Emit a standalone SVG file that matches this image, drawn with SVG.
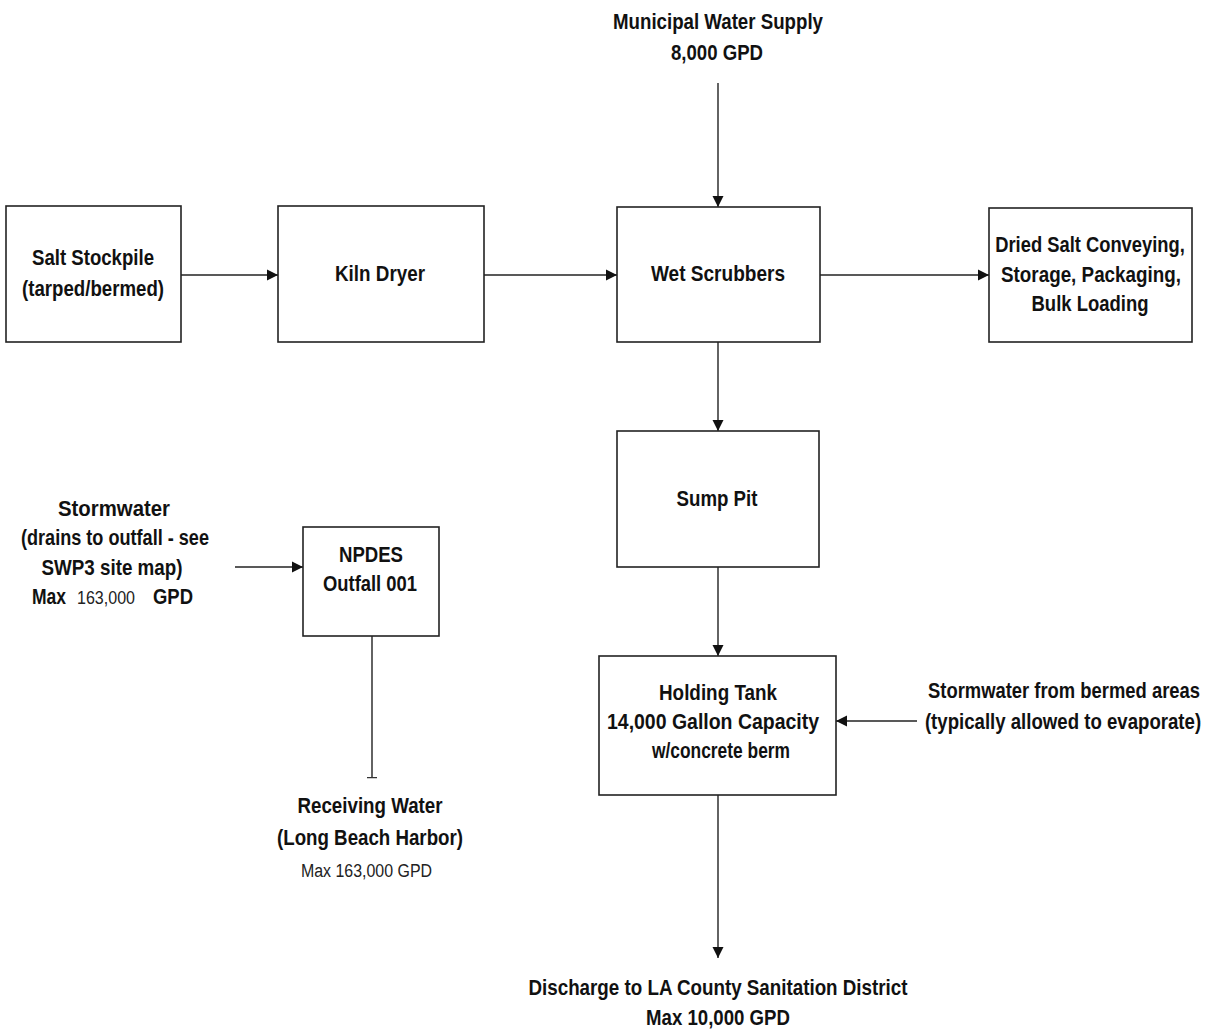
<svg xmlns="http://www.w3.org/2000/svg" width="1212" height="1034" viewBox="0 0 1212 1034">
<style>
.box{fill:#fff;stroke:#222;stroke-width:1.6}
.t{font-family:"Liberation Sans",Arial,sans-serif;font-weight:bold;font-size:22px;fill:#111;text-anchor:middle}
.l{font-family:"Liberation Sans",Arial,sans-serif;font-weight:normal;font-size:18px;fill:#222}
.c{fill:none;stroke:#222;stroke-width:1.4}
</style>
<defs>
<marker id="arr" markerUnits="userSpaceOnUse" markerWidth="12" markerHeight="12" refX="11" refY="6" orient="auto">
<path d="M0,0.5 L11,6 L0,11.5 z" fill="#111"/>
</marker>
<marker id="tee" markerUnits="userSpaceOnUse" markerWidth="12" markerHeight="12" refX="1" refY="6" orient="auto">
<path d="M0,1 L0,11" stroke="#333" stroke-width="2.5"/>
</marker>
</defs>
<rect width="1212" height="1034" fill="#fff"/>
<g id="connectors">
<path class="c" d="M181,275 H278" marker-end="url(#arr)"/>
<path class="c" d="M484,275 H617" marker-end="url(#arr)"/>
<path class="c" d="M820,275 H989" marker-end="url(#arr)"/>
<path class="c" d="M718,83 V207" marker-end="url(#arr)"/>
<path class="c" d="M718,342 V431" marker-end="url(#arr)"/>
<path class="c" d="M718,567 V656" marker-end="url(#arr)"/>
<path class="c" d="M718,795 V958" marker-end="url(#arr)"/>
<path class="c" d="M235,567 H303" marker-end="url(#arr)"/>
<path class="c" d="M917,721 H836" marker-end="url(#arr)"/>
<path class="c" d="M372,636 V778" marker-end="url(#tee)"/>
</g>
<g id="municipal">
<text class="t" x="718" y="29" textLength="210" lengthAdjust="spacingAndGlyphs">Municipal Water Supply</text>
<text class="t" x="717" y="60" textLength="92" lengthAdjust="spacingAndGlyphs">8,000 GPD</text>
</g>
<g id="salt-stockpile">
<rect class="box" x="6" y="206" width="175" height="136"/>
<text class="t" x="93" y="265" textLength="122" lengthAdjust="spacingAndGlyphs">Salt Stockpile</text>
<text class="t" x="93" y="296" textLength="142" lengthAdjust="spacingAndGlyphs">(tarped/bermed)</text>
</g>
<g id="kiln-dryer">
<rect class="box" x="278" y="206" width="206" height="136"/>
<text class="t" x="380" y="281" textLength="90" lengthAdjust="spacingAndGlyphs">Kiln Dryer</text>
</g>
<g id="wet-scrubbers">
<rect class="box" x="617" y="207" width="203" height="135"/>
<text class="t" x="718" y="281" textLength="134" lengthAdjust="spacingAndGlyphs">Wet Scrubbers</text>
</g>
<g id="dried-salt">
<rect class="box" x="989" y="208" width="203" height="134"/>
<text class="t" transform="translate(1090,252) scale(0.85,1)" x="0" y="0" textLength="223" lengthAdjust="spacingAndGlyphs">Dried Salt Conveying,</text>
<text class="t" x="1091" y="282" textLength="180" lengthAdjust="spacingAndGlyphs">Storage, Packaging,</text>
<text class="t" x="1090" y="311" textLength="117" lengthAdjust="spacingAndGlyphs">Bulk Loading</text>
</g>
<g id="sump-pit">
<rect class="box" x="617" y="431" width="202" height="136"/>
<text class="t" x="717" y="506" textLength="81" lengthAdjust="spacingAndGlyphs">Sump Pit</text>
</g>
<g id="holding-tank">
<rect class="box" x="599" y="656" width="237" height="139"/>
<text class="t" x="718" y="700" textLength="118" lengthAdjust="spacingAndGlyphs">Holding Tank</text>
<text class="t" x="713" y="729" textLength="212" lengthAdjust="spacingAndGlyphs">14,000 Gallon Capacity</text>
<text class="t" x="721" y="758" textLength="138" lengthAdjust="spacingAndGlyphs">w/concrete berm</text>
</g>
<g id="stormwater-bermed">
<text class="t" transform="translate(1064,698) scale(0.85,1)" x="0" y="0" textLength="320" lengthAdjust="spacingAndGlyphs">Stormwater from bermed areas</text>
<text class="t" transform="translate(1063,729) scale(0.85,1)" x="0" y="0" textLength="325" lengthAdjust="spacingAndGlyphs">(typically allowed to evaporate)</text>
</g>
<g id="discharge">
<text class="t" x="718" y="995" textLength="379" lengthAdjust="spacingAndGlyphs">Discharge to LA County Sanitation District</text>
<text class="t" x="718" y="1025" textLength="144" lengthAdjust="spacingAndGlyphs">Max 10,000 GPD</text>
</g>
<g id="stormwater">
<text class="t" x="114" y="516" textLength="112" lengthAdjust="spacingAndGlyphs">Stormwater</text>
<text class="t" x="115" y="545" textLength="188" lengthAdjust="spacingAndGlyphs">(drains to outfall - see</text>
<text class="t" x="112" y="575" textLength="141" lengthAdjust="spacingAndGlyphs">SWP3 site map)</text>
<text class="t" x="49" y="604" textLength="34" lengthAdjust="spacingAndGlyphs">Max</text>
<text class="l" x="77" y="604" textLength="58" lengthAdjust="spacingAndGlyphs">163,000</text>
<text class="t" x="173" y="604" textLength="40" lengthAdjust="spacingAndGlyphs">GPD</text>
</g>
<g id="npdes">
<rect class="box" x="303" y="527" width="136" height="109"/>
<text class="t" x="371" y="562" textLength="64" lengthAdjust="spacingAndGlyphs">NPDES</text>
<text class="t" x="370" y="591" textLength="94" lengthAdjust="spacingAndGlyphs">Outfall 001</text>
</g>
<g id="receiving-water">
<text class="t" x="370" y="813" textLength="145" lengthAdjust="spacingAndGlyphs">Receiving Water</text>
<text class="t" x="370" y="845" textLength="186" lengthAdjust="spacingAndGlyphs">(Long Beach Harbor)</text>
<text class="l" x="301" y="877" textLength="131" lengthAdjust="spacingAndGlyphs">Max 163,000 GPD</text>
</g>
</svg>
